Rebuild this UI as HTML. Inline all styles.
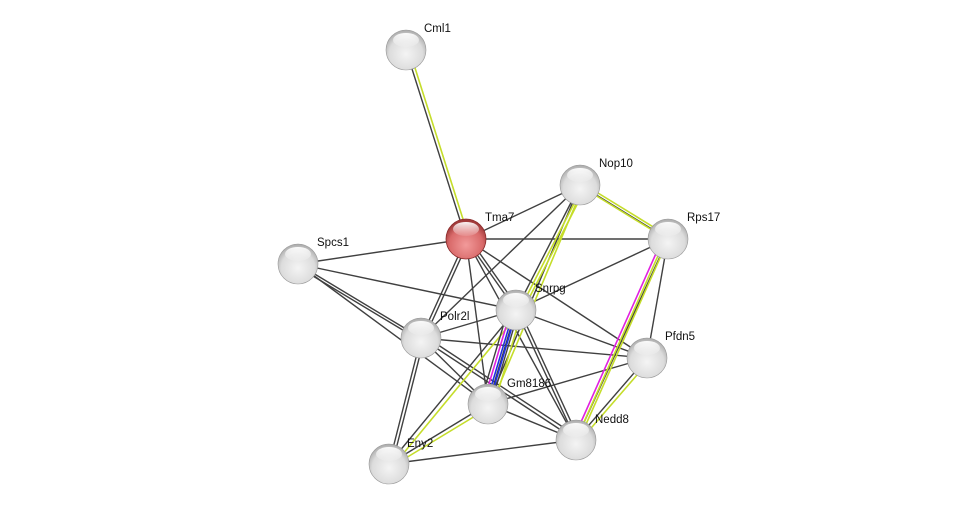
<!DOCTYPE html>
<html><head><meta charset="utf-8"><style>
html,body{margin:0;padding:0;background:#fff;}
svg{display:block;}
text{font-family:"Liberation Sans",sans-serif;font-size:11.5px;fill:#111;}
</style></head><body>
<svg width="975" height="510" viewBox="0 0 975 510" xmlns="http://www.w3.org/2000/svg">
<defs>
<radialGradient id="g" cx="50%" cy="60%" r="60%">
<stop offset="0" stop-color="#f4f4f4"/><stop offset="0.7" stop-color="#dcdcdc"/><stop offset="1" stop-color="#a8a8a8"/></radialGradient>
<radialGradient id="r" cx="50%" cy="65%" r="60%">
<stop offset="0" stop-color="#f29a9a"/><stop offset="0.7" stop-color="#d96a6a"/><stop offset="1" stop-color="#a03a3a"/></radialGradient>
<linearGradient id="hl" x1="0" y1="0" x2="0" y2="1"><stop offset="0" stop-color="#fff" stop-opacity="0.95"/><stop offset="1" stop-color="#fff" stop-opacity="0.1"/></linearGradient>
</defs>
<g stroke="#404040" stroke-width="1.4" fill="none">
<line x1="466" y1="239" x2="580" y2="185"/>
<line x1="466" y1="239" x2="668" y2="239"/>
<line x1="466" y1="239" x2="298" y2="264"/>
<line x1="466" y1="239" x2="516" y2="310"/><line x1="469" y1="238" x2="519" y2="309"/>
<line x1="466" y1="239" x2="421" y2="338"/><line x1="469" y1="240" x2="424" y2="339"/>
<line x1="466" y1="239" x2="488" y2="404"/>
<line x1="466" y1="239" x2="576" y2="440"/>
<line x1="466" y1="239" x2="647" y2="358"/>
<line x1="298" y1="264" x2="516" y2="310"/>
<line x1="298" y1="264" x2="421" y2="338"/><line x1="298" y1="267" x2="421" y2="341"/>
<line x1="298" y1="264" x2="488" y2="404"/>
<line x1="580" y1="185" x2="421" y2="338"/>
<line x1="580" y1="185" x2="668" y2="239"/>
<line x1="580" y1="185" x2="516" y2="310"/>
<line x1="580" y1="185" x2="488" y2="404"/>
<line x1="668" y1="239" x2="516" y2="310"/>
<line x1="668" y1="239" x2="647" y2="358"/>
<line x1="668" y1="239" x2="576" y2="440"/>
<line x1="516" y1="310" x2="421" y2="338"/>
<line x1="516" y1="310" x2="647" y2="358"/>
<line x1="516" y1="310" x2="576" y2="440"/><line x1="519" y1="309" x2="579" y2="439"/>
<line x1="516" y1="310" x2="488" y2="404"/>
<line x1="516" y1="310" x2="389" y2="464"/>
<line x1="421" y1="338" x2="647" y2="358"/>
<line x1="421" y1="338" x2="488" y2="404"/>
<line x1="421" y1="338" x2="576" y2="440"/><line x1="423" y1="335" x2="578" y2="437"/>
<line x1="421" y1="338" x2="389" y2="464"/><line x1="424" y1="339" x2="392" y2="465"/>
<line x1="647" y1="358" x2="488" y2="404"/>
<line x1="647" y1="358" x2="576" y2="440"/>
<line x1="488" y1="404" x2="576" y2="440"/>
<line x1="488" y1="404" x2="389" y2="464"/>
<line x1="389" y1="464" x2="576" y2="440"/>
<line x1="406" y1="50" x2="466" y2="239"/>
</g>
<g stroke="#c5dd2a" stroke-width="1.6" fill="none">
<line x1="409" y1="49" x2="469" y2="238"/>
<line x1="582" y1="187" x2="670" y2="241"/><line x1="580" y1="182" x2="668" y2="236"/>
<line x1="583" y1="186" x2="519" y2="311"/><line x1="586" y1="187" x2="522" y2="312"/>
<line x1="583" y1="187" x2="491" y2="405"/>
<line x1="520" y1="312" x2="393" y2="466"/>
<line x1="665" y1="240" x2="576" y2="440"/><line x1="668" y1="240" x2="579" y2="440"/>
<line x1="650" y1="360" x2="579" y2="442"/>
<line x1="490" y1="407" x2="391" y2="467"/>
<line x1="522" y1="311" x2="494" y2="405"/>
</g>
<g stroke="#e020e0" stroke-width="1.6" fill="none">
<line x1="662" y1="240" x2="573" y2="440"/>
<line x1="511" y1="310" x2="483" y2="404"/>
</g>
<g stroke="#2030e0" stroke-width="1.6" fill="none">
<line x1="517" y1="310" x2="489" y2="404"/>
<line x1="514" y1="310" x2="486" y2="404"/>
</g>
<g stroke="#404040" stroke-width="1.4"><line x1="519" y1="310" x2="491" y2="404"/><line x1="508" y1="310" x2="480" y2="404"/></g>
<g>
<circle cx="406" cy="50" r="20" fill="url(#g)" stroke="#999" stroke-width="0.6"/>
<circle cx="580" cy="185" r="20" fill="url(#g)" stroke="#999" stroke-width="0.6"/>
<circle cx="668" cy="239" r="20" fill="url(#g)" stroke="#999" stroke-width="0.6"/>
<circle cx="298" cy="264" r="20" fill="url(#g)" stroke="#999" stroke-width="0.6"/>
<circle cx="516" cy="310" r="20" fill="url(#g)" stroke="#999" stroke-width="0.6"/>
<circle cx="421" cy="338" r="20" fill="url(#g)" stroke="#999" stroke-width="0.6"/>
<circle cx="647" cy="358" r="20" fill="url(#g)" stroke="#999" stroke-width="0.6"/>
<circle cx="488" cy="404" r="20" fill="url(#g)" stroke="#999" stroke-width="0.6"/>
<circle cx="576" cy="440" r="20" fill="url(#g)" stroke="#999" stroke-width="0.6"/>
<circle cx="389" cy="464" r="20" fill="url(#g)" stroke="#999" stroke-width="0.6"/>
<circle cx="466" cy="239" r="20" fill="url(#r)" stroke="#8a2a2a" stroke-width="0.8"/>
</g>
<g fill="url(#hl)">
<ellipse cx="406" cy="40" rx="13" ry="7"/><ellipse cx="580" cy="175" rx="13" ry="7"/>
<ellipse cx="668" cy="229" rx="13" ry="7"/><ellipse cx="298" cy="254" rx="13" ry="7"/>
<ellipse cx="516" cy="300" rx="13" ry="7"/><ellipse cx="421" cy="328" rx="13" ry="7"/>
<ellipse cx="647" cy="348" rx="13" ry="7"/><ellipse cx="488" cy="394" rx="13" ry="7"/>
<ellipse cx="576" cy="430" rx="13" ry="7"/><ellipse cx="389" cy="454" rx="13" ry="7"/>
<ellipse cx="466" cy="229" rx="13" ry="7"/>
</g>
<g>
<text x="424" y="32">Cml1</text>
<text x="599" y="167">Nop10</text>
<text x="687" y="221">Rps17</text>
<text x="485" y="221">Tma7</text>
<text x="317" y="246">Spcs1</text>
<text x="535" y="292">Snrpg</text>
<text x="440" y="320">Polr2l</text>
<text x="665" y="340">Pfdn5</text>
<text x="507" y="387">Gm8186</text>
<text x="595" y="423">Nedd8</text>
<text x="407" y="447">Eny2</text>
</g>
</svg>
</body></html>
